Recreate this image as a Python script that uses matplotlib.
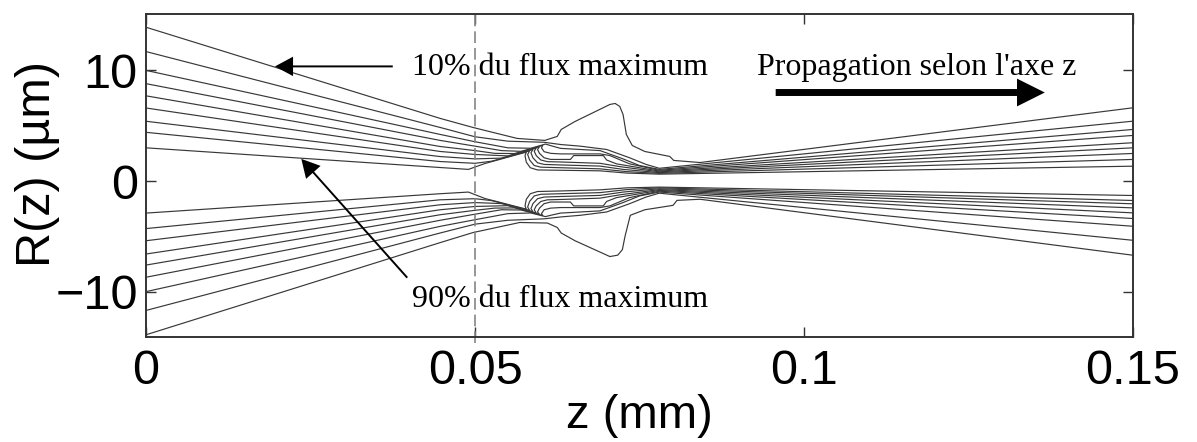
import matplotlib
matplotlib.use("Agg")
import matplotlib.pyplot as plt
import numpy as np

# Iso-flux contours R(z) of the beam, 10 % (outer) to 90 % (inner) of the max flux
# Each contour: list of (z in mm, R in µm)
upper_10 = [(0, 13.9), (0.0447, 5.66), (0.0497, 4.84), (0.0564, 3.85), (0.0606, 3.67),
            (0.0625, 4.03), (0.0631, 4.66), (0.0652, 5.38), (0.0705, 6.92), (0.0713, 7.01),
            (0.0720, 6.74), (0.0725, 6.02), (0.0730, 4.21), (0.0739, 3.21), (0.0758, 2.67),
            (0.0796, 2.22), (0.0802, 1.86), (0.0842, 1.67), (0.15, 6.62)]
upper_20 = [(0, 11.7), (0.0447, 4.84), (0.050, 4.0), (0.055, 3.6), (0.0605, 3.5), (0.063, 3.3),
            (0.066, 3.15), (0.070, 2.85), (0.0735, 2.1), (0.076, 1.5), (0.078, 1.15), (0.15, 5.41)]
upper_30 = [(0, 10.0), (0.0447, 4.21), (0.050, 3.55), (0.055, 3.0), (0.0585, 2.96), (0.0607, 3.34),
            (0.0615, 3.2), (0.063, 2.95), (0.066, 2.85), (0.069, 2.75), (0.0725, 2.0), (0.075, 1.4),
            (0.078, 1.05), (0.15, 4.66)]
upper_40 = [(0, 8.8), (0.0447, 3.67), (0.050, 3.15), (0.054, 2.75), (0.057, 2.68), (0.0603, 3.22),
            (0.0601, 3.0), (0.0605, 2.65), (0.0615, 2.5), (0.063, 2.45), (0.069, 2.45), (0.0705, 2.3),
            (0.0735, 1.55), (0.078, 0.97), (0.15, 4.12)]
upper_50 = [(0, 7.7), (0.0447, 3.12), (0.050, 2.75), (0.053, 2.5), (0.056, 2.48), (0.0598, 3.1),
            (0.0595, 2.85), (0.0598, 2.5), (0.0605, 2.1), (0.0615, 1.95), (0.0645, 1.95), (0.0650, 2.3),
            (0.0695, 2.3), (0.0700, 1.9), (0.0715, 1.55), (0.078, 0.9), (0.15, 3.46)]
upper_60 = [(0, 6.6), (0.0447, 2.67), (0.050, 2.4), (0.055, 2.27), (0.056, 2.44), (0.0593, 2.98),
            (0.0590, 2.7), (0.0593, 2.3), (0.0600, 1.9), (0.061, 1.75), (0.063, 1.72), (0.069, 1.6),
            (0.072, 1.3), (0.078, 0.83), (0.15, 3.0)]
upper_70 = [(0, 5.4), (0.0447, 2.21), (0.050, 2.0), (0.054, 2.07), (0.056, 2.4), (0.0588, 2.85),
            (0.0585, 2.55), (0.0588, 2.1), (0.0595, 1.65), (0.0605, 1.5), (0.063, 1.45), (0.069, 1.35),
            (0.0725, 1.05), (0.078, 0.76), (0.15, 2.49)]
upper_80 = [(0, 4.4), (0.0447, 1.76), (0.050, 1.6), (0.0525, 1.79), (0.054, 2.03), (0.056, 2.36),
            (0.0583, 2.73), (0.0580, 2.4), (0.0583, 1.9), (0.059, 1.4), (0.060, 1.25), (0.063, 1.2),
            (0.069, 1.1), (0.073, 0.85), (0.078, 0.69), (0.15, 1.95)]
upper_90 = [(0, 3.0), (0.0447, 1.22), (0.049, 1.05), (0.0515, 1.58), (0.054, 1.99), (0.056, 2.32),
            (0.0578, 2.61), (0.0576, 2.3), (0.0578, 1.7), (0.0584, 1.2), (0.0595, 1.0), (0.063, 0.97),
            (0.069, 0.92), (0.073, 0.72), (0.078, 0.62), (0.15, 1.34)]

lower_10 = [(0, -13.9), (0.0447, -5.57), (0.0497, -4.66), (0.0568, -3.75), (0.0610, -3.8),
            (0.0625, -4.2), (0.0631, -4.7), (0.0652, -5.4), (0.0705, -6.83), (0.0717, -6.7),
            (0.0724, -6.2), (0.0728, -5.0), (0.0736, -3.1), (0.0758, -2.6), (0.0801, -2.2),
            (0.0807, -1.75), (0.0842, -1.65), (0.15, -6.71)]
lower_20 = [(0, -11.7), (0.0447, -4.7), (0.050, -3.9), (0.055, -3.55), (0.0605, -3.42), (0.063, -3.25),
            (0.066, -3.1), (0.070, -2.8), (0.0735, -2.05), (0.076, -1.45), (0.078, -1.1), (0.15, -5.36)]
lower_30 = [(0, -10.0), (0.0447, -4.1), (0.050, -3.5), (0.055, -2.95), (0.0585, -2.89), (0.0607, -3.22),
            (0.0615, -3.1), (0.063, -2.9), (0.066, -2.8), (0.069, -2.7), (0.0725, -1.95), (0.075, -1.35),
            (0.078, -1.0), (0.15, -4.09)]
lower_40 = [(0, -8.7), (0.0447, -3.55), (0.050, -3.0), (0.054, -2.6), (0.057, -2.62), (0.0603, -3.12),
            (0.0601, -2.95), (0.0605, -2.6), (0.0615, -2.45), (0.063, -2.4), (0.069, -2.4), (0.0705, -2.25),
            (0.0735, -1.5), (0.078, -0.92), (0.15, -3.39)]
lower_50 = [(0, -7.6), (0.0447, -3.05), (0.050, -2.65), (0.053, -2.45), (0.056, -2.43), (0.0598, -3.01),
            (0.0595, -2.8), (0.0598, -2.45), (0.0605, -2.05), (0.0615, -1.9), (0.0645, -1.9), (0.0650, -2.25),
            (0.0695, -2.25), (0.0700, -1.85), (0.0715, -1.5), (0.078, -0.85), (0.15, -2.88)]
lower_60 = [(0, -6.6), (0.0447, -2.6), (0.050, -2.3), (0.055, -2.23), (0.056, -2.39), (0.0593, -2.89),
            (0.0590, -2.6), (0.0593, -2.25), (0.0600, -1.85), (0.061, -1.7), (0.063, -1.67), (0.069, -1.55),
            (0.072, -1.25), (0.078, -0.78), (0.15, -2.43)]
lower_70 = [(0, -5.4), (0.0447, -2.15), (0.050, -1.95), (0.054, -2.04), (0.056, -2.35), (0.0588, -2.77),
            (0.0585, -2.5), (0.0588, -2.05), (0.0595, -1.6), (0.0605, -1.45), (0.063, -1.4), (0.069, -1.3),
            (0.0725, -1.0), (0.078, -0.7), (0.15, -2.06)]
lower_80 = [(0, -4.3), (0.0447, -1.7), (0.050, -1.6), (0.0525, -1.77), (0.054, -2.0), (0.056, -2.31),
            (0.0583, -2.66), (0.0580, -2.35), (0.0583, -1.85), (0.059, -1.35), (0.060, -1.2), (0.063, -1.15),
            (0.069, -1.05), (0.073, -0.78), (0.078, -0.62), (0.15, -1.76)]
lower_90 = [(0, -2.9), (0.0447, -1.15), (0.049, -1.0), (0.0515, -1.58), (0.054, -1.96), (0.056, -2.27),
            (0.0578, -2.54), (0.0576, -2.25), (0.0578, -1.65), (0.0584, -1.15), (0.0595, -0.95), (0.063, -0.9),
            (0.069, -0.8), (0.073, -0.62), (0.078, -0.55), (0.15, -1.31)]

contours = [upper_10, upper_20, upper_30, upper_40, upper_50, upper_60, upper_70, upper_80, upper_90,
            lower_10, lower_20, lower_30, lower_40, lower_50, lower_60, lower_70, lower_80, lower_90]

x_ticks = [0, 0.05, 0.1, 0.15]
x_tick_labels = ["0", "0.05", "0.1", "0.15"]
y_ticks = [-10, 0, 10]
z_exit = 0.05

fig = plt.figure(figsize=(11.97, 4.42), dpi=100)
ax = fig.add_axes([0.122, 0.2376, 0.8245, 0.7308])

for c in contours:
    z, r = zip(*c)
    ax.plot(z, r, color="#383838", lw=0.85, solid_joinstyle="round")

ax.set_xlim(0, 0.15)
ax.set_ylim(-14.1, 15.1)

# dashed marker of the exit plane
ax.plot([z_exit, z_exit], [-14.65, 15.1], color="#858585", lw=1.2,
        dashes=[7, 3], clip_on=False)

sans = ["Liberation Sans", "DejaVu Sans"]
serif = ["Liberation Serif", "DejaVu Serif"]

ax.set_xticks(x_ticks)
ax.set_xticklabels(x_tick_labels)
ax.set_yticks(y_ticks)
ax.tick_params(direction="in", length=7, width=1.0, color="#333333",
               top=True, right=True, labelsize=35)
ax.tick_params(axis="x", pad=9)
ax.tick_params(axis="y", pad=6)
for lab in ax.get_xticklabels() + ax.get_yticklabels():
    lab.set_family(sans)
for s in ax.spines.values():
    s.set_color("#333333")
    s.set_linewidth(1.4)

ax.set_xlabel("z (mm)", fontsize=34, family=sans)
ax.xaxis.set_label_coords(0.5, -0.178)
ax.set_ylabel("R(z) (µm)", fontsize=35, family=sans)
ax.yaxis.set_label_coords(-0.087, 0.535)

# annotations
ax.text(0.0404, 9.6, "10% du flux maximum", family=serif, fontsize=23,
        ha="left", va="baseline")
ax.text(0.0404, -11.36, "90% du flux maximum", family=serif, fontsize=23,
        ha="left", va="baseline")
ax.text(0.0929, 9.6, "Propagation selon l'axe z", family=serif, fontsize=23,
        ha="left", va="baseline")

thin = dict(arrowstyle="simple,head_length=1.3,head_width=1.4,tail_width=0.14",
            color="black", lw=0, mutation_scale=10, shrinkA=0, shrinkB=0)
ax.annotate("", xy=(0.0196, 10.36), xytext=(0.0375, 10.36), arrowprops=thin)
ax.annotate("", xy=(0.0236, 2.0), xytext=(0.0397, -8.74), arrowprops=thin)
thick = dict(arrowstyle="simple,head_length=2.0,head_width=2.0,tail_width=0.5",
             color="black", lw=0, mutation_scale=10, shrinkA=0, shrinkB=0)
ax.annotate("", xy=(0.1366, 8.0), xytext=(0.0957, 8.0), arrowprops=thick)

fig.savefig("out.png", dpi=100)
